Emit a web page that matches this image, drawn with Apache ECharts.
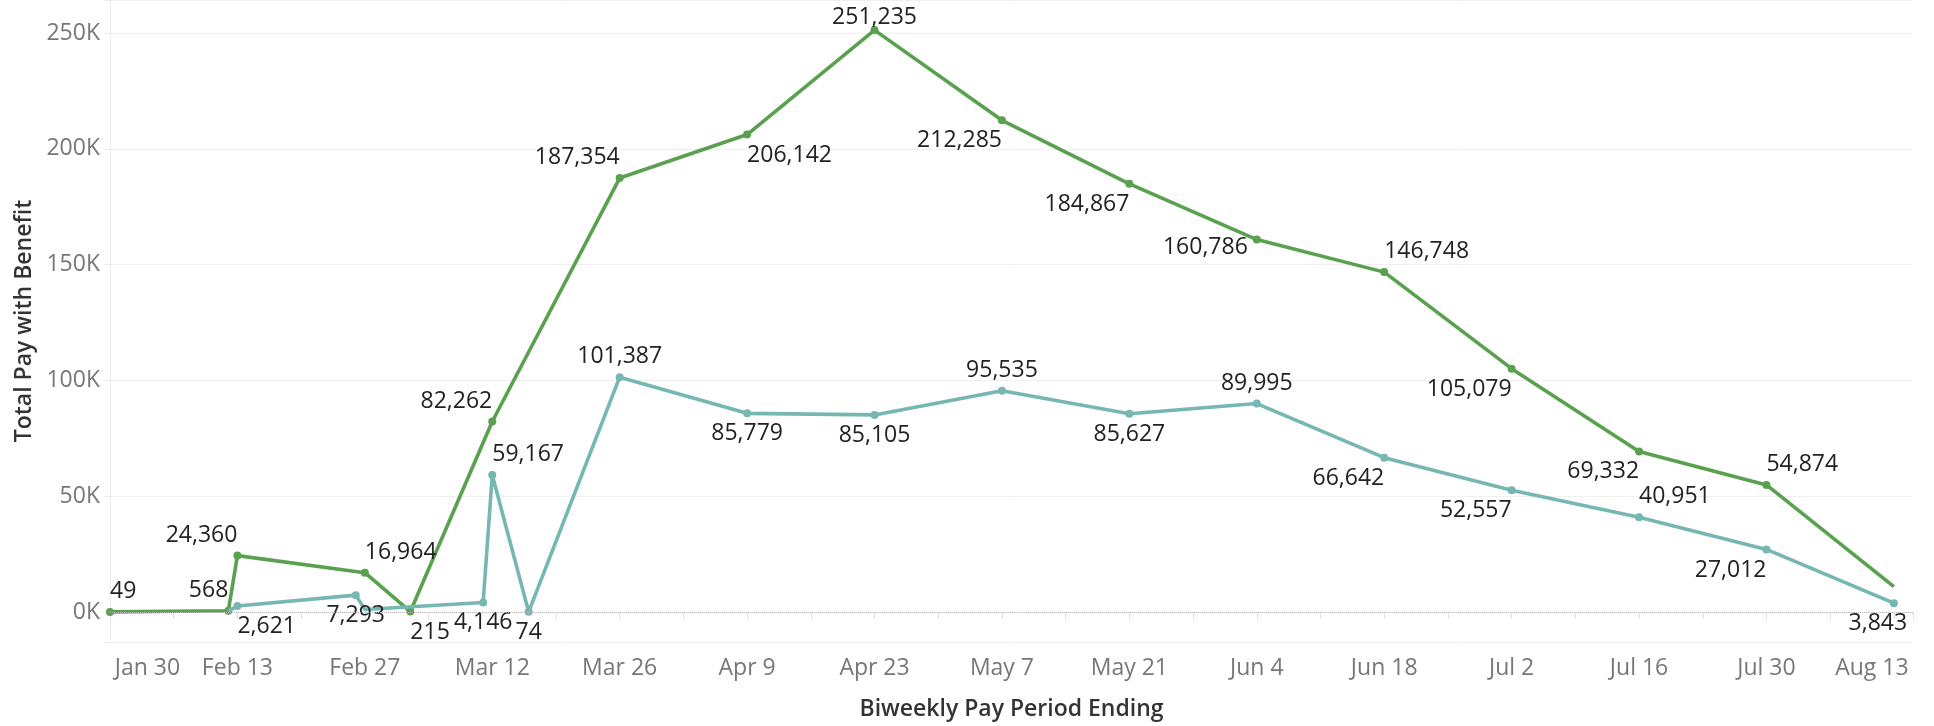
<!DOCTYPE html>
<html lang="en">
<head>
    <meta charset="utf-8">
    <title>Total Pay with Benefit</title>
    <script src="https://cdn.jsdelivr.net/npm/echarts@6/dist/echarts.min.js"></script>
</head>
<body style="margin:0;background:#fff;">
    <div id="main" style="width:1934px;height:726px;"></div>
    <script type="text/javascript">
        // pay period end dates and totals
        var greenDates = ['2020-01-30', '2020-02-12', '2020-02-13', '2020-02-27', '2020-03-03', '2020-03-12',
            '2020-03-26', '2020-04-09', '2020-04-23', '2020-05-07', '2020-05-21', '2020-06-04',
            '2020-06-18', '2020-07-02', '2020-07-16', '2020-07-30', '2020-08-13'];
        var greenValues = [49, 568, 24360, 16964, 215, 82262,
            187354, 206142, 251235, 212285, 184867, 160786,
            146748, 105079, 69332, 54874, 10950];

        var tealDates = ['2020-02-12', '2020-02-13', '2020-02-26', '2020-02-27', '2020-03-11', '2020-03-12',
            '2020-03-16', '2020-03-26', '2020-04-09', '2020-04-23', '2020-05-07', '2020-05-21',
            '2020-06-04', '2020-06-18', '2020-07-02', '2020-07-16', '2020-07-30', '2020-08-13'];
        var tealValues = [400, 2621, 7293, 1100, 4146, 59167,
            74, 101387, 85779, 85105, 95535, 85627,
            89995, 66642, 52557, 40951, 27012, 3843];

        var yTicks = [0, 50000, 100000, 150000, 200000, 250000];

        // where each mark label sits (layout only)
        var greenLabelPos = ['TR', 'TL', 'TL', 'TR', 'BR', 'TL', 'TL', 'BR', 'Tdown', 'BL', 'BL', 'L',
            'TR', 'BL', 'BL', 'TR', 'none'];
        var tealLabelPos = ['none', 'BR', 'B', 'none', 'B', 'TR', 'B', 'T', 'B', 'B', 'T', 'B',
            'T', 'BL', 'BL', 'TR', 'BL', 'Bleft'];

        var labelStyles = {
            T: {position: 'top'},
            B: {position: 'bottom'},
            TL: {position: 'top', align: 'right'},
            TR: {position: 'top', align: 'left'},
            BL: {position: 'bottom', align: 'right'},
            BR: {position: 'bottom', align: 'left'},
            L: {position: 'left', offset: [0, 8]},
            Tdown: {position: 'top', offset: [0, 8]},
            Bleft: {position: 'bottom', offset: [-16, 0]}
        };

        var DAY = 86400000;
        var start = Date.UTC(2020, 0, 30);
        var months = ['Jan', 'Feb', 'Mar', 'Apr', 'May', 'Jun', 'Jul', 'Aug', 'Sep', 'Oct', 'Nov', 'Dec'];

        function dayIndex(s) {
            var p = s.split('-');
            return Math.round((Date.UTC(+p[0], +p[1] - 1, +p[2]) - start) / DAY);
        }
        function dayLabel(d) {
            var dt = new Date(start + d * DAY);
            return months[dt.getUTCMonth()] + ' ' + dt.getUTCDate();
        }

        function buildData(dates, values, posList) {
            var out = [];
            for (var i = 0; i < dates.length; i++) {
                var code = posList[i];
                var item = {value: [dayIndex(dates[i]), values[i]]};
                if (code === 'none') {
                    item.label = {show: false};
                    item.symbolSize = 0;
                } else {
                    item.label = Object.assign({show: true}, labelStyles[code]);
                }
                out.push(item);
            }
            return out;
        }

        var lastDay = dayIndex(greenDates[greenDates.length - 1]);
        var font = 'Open Sans';

        var labelText = {
            fontFamily: font,
            fontSize: 23,
            color: '#222',
            distance: 5,
            formatter: function (p) { return p.value[1].toLocaleString('en-US'); }
        };

        var myChart = echarts.init(document.getElementById('main'));
        myChart.setOption({
            animation: false,
            grid: {left: 110, right: 21, top: 0, bottom: 83},
            xAxis: {
                type: 'value',
                min: 0,
                max: lastDay + 2.1,
                interval: 7,
                name: 'Biweekly Pay Period Ending',
                nameLocation: 'middle',
                nameGap: 56,
                nameTextStyle: {fontFamily: font, fontSize: 23, fontWeight: 600, color: '#333'},
                axisLine: {show: true, lineStyle: {color: '#e6e6e6', width: 1}},
                axisTick: {show: true, length: 7, lineStyle: {color: '#e0e0e0'}},
                splitLine: {show: false},
                axisLabel: {
                    fontFamily: font,
                    fontSize: 23,
                    color: '#777',
                    margin: 15,
                    formatter: function (v) {
                        if (v % 14 !== 0) return '';
                        if (v === 0) return '{first|' + dayLabel(v) + '}';
                        if (v === lastDay) return '{last|' + dayLabel(v) + '}';
                        return dayLabel(v);
                    },
                    rich: {
                        first: {fontFamily: font, fontSize: 23, color: '#777', padding: [0, 0, 0, 75]},
                        last: {fontFamily: font, fontSize: 23, color: '#777', padding: [0, 44, 0, 0]}
                    }
                }
            },
            yAxis: {
                type: 'value',
                min: -12940,
                max: 264230,
                splitNumber: 5,
                name: 'Total Pay with Benefit',
                nameLocation: 'middle',
                nameGap: 74,
                nameTextStyle: {fontFamily: font, fontSize: 23, fontWeight: 600, color: '#333'},
                axisLine: {show: true, lineStyle: {color: '#ececec', width: 1}},
                axisTick: {show: true, length: 6, lineStyle: {color: '#ececec'}},
                splitLine: {show: true, lineStyle: {color: '#f0f0f0', width: 1}},
                axisLabel: {
                    fontFamily: font,
                    fontSize: 23,
                    color: '#777',
                    margin: 10,
                    formatter: function (v) {
                        return yTicks.indexOf(v) >= 0 ? (v / 1000) + 'K' : '';
                    }
                }
            },
            series: [
                {
                    name: 'Group A',
                    type: 'line',
                    data: buildData(greenDates, greenValues, greenLabelPos),
                    symbol: 'circle',
                    symbolSize: 8,
                    lineStyle: {color: '#59a14f', width: 3.6},
                    itemStyle: {color: '#59a14f'},
                    label: labelText,
                    markLine: {
                        silent: true,
                        symbol: 'none',
                        label: {show: false},
                        lineStyle: {type: 'dotted', color: '#bdbdbd', width: 1},
                        data: [{yAxis: 0}]
                    },
                    z: 2
                },
                {
                    name: 'Group B',
                    type: 'line',
                    data: buildData(tealDates, tealValues, tealLabelPos),
                    symbol: 'circle',
                    symbolSize: 8,
                    lineStyle: {color: '#76b7b2', width: 3.6},
                    itemStyle: {color: '#76b7b2'},
                    label: labelText,
                    z: 3
                }
            ]
        });
    </script>
</body>
</html>
